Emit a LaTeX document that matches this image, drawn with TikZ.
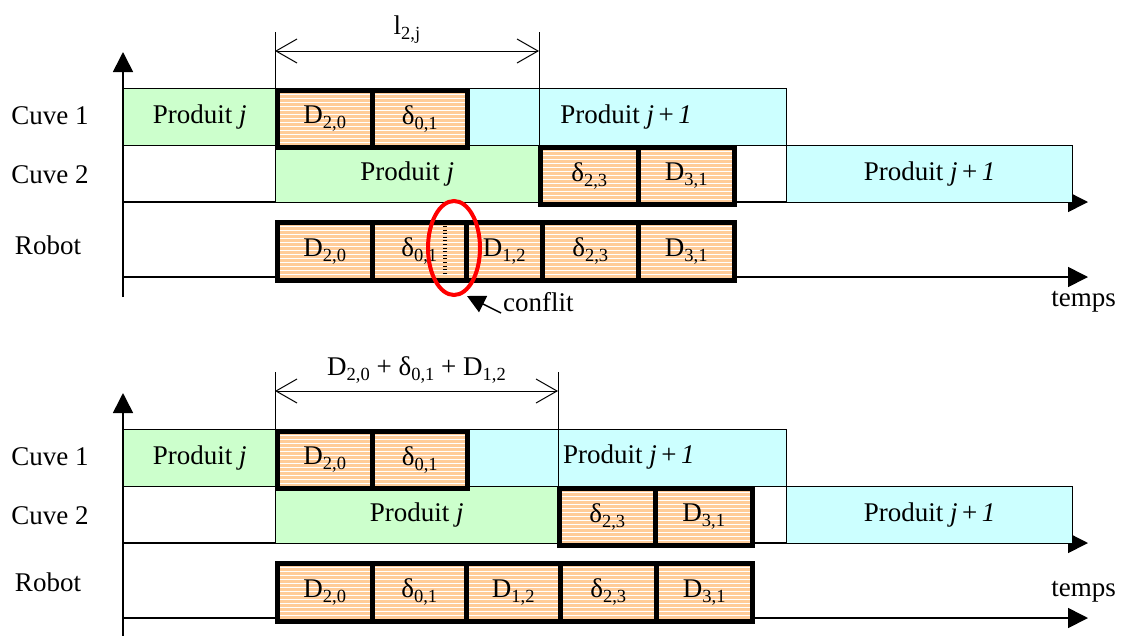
\documentclass[tikz,border=0pt]{standalone}
\usepackage{fontspec}
\setmainfont{Liberation Serif}
\usetikzlibrary{arrows.meta}
\definecolor{peche}{HTML}{FFCC99}
\definecolor{vertclair}{HTML}{CCFFCC}
\definecolor{cyanclair}{HTML}{CCFFFF}
\newcommand\ind[1]{\raisebox{-5pt}{\fontsize{18.5}{18.5}\selectfont #1}}
\tikzset{
    produit/.style={draw, line width=1.3pt, anchor=north west, inner sep=0pt, minimum height=57pt},
    tache/.style={draw, line width=4.5pt, fill=peche, anchor=north west, inner sep=0pt, minimum height=57pt,
        path picture={\foreach \k in {1,...,15}
            \draw[white, line width=0.8pt] ([yshift=-\k*4pt]path picture bounding box.north west) -- ([yshift=-\k*4pt]path picture bounding box.north east);}},
    axe/.style={line width=1.6pt, -{Triangle[length=20pt,width=20pt]}},
    cote/.style={line width=1pt, {Straight Barb[length=21pt,width=24pt]}-{Straight Barb[length=21pt,width=24pt]}},
}

\begin{document}
\begin{tikzpicture}[x=1pt, y=-1pt, font=\fontsize{27}{31}\selectfont]
    \useasboundingbox (0,0) rectangle (1123,635);
    % premier ordonnancement (conflit)
    \draw[axe] (123,297) -- (123,52);
    \draw[axe] (123,202) -- (1088,202);
    \draw[axe] (123,277) -- (1088,277);
    \node (lc1) at (50,116) {Cuve 1};
    \node (lc2) at (50,175) {Cuve 2};
    \node (lrb) at (48,245) {Robot};
    \node[produit, fill=vertclair, minimum width=152pt] (c1pj) at (123,88) {Produit \textit{j}};
    \node[produit, fill=cyanclair, minimum width=321pt] (c1pk) at (465,88) {Produit \textit{j}\,+\,\textit{1}};
    \node[produit, fill=vertclair, minimum width=263pt] (c2pj) at (275,145) {Produit \textit{j}};
    \node[produit, fill=cyanclair, minimum width=286pt] (c2pk) at (786,145) {Produit \textit{j}\,+\,\textit{1}};
    \node[tache, minimum width=95pt] (c1a) at (275,88) {D\ind{2,0}};
    \node[tache, minimum width=95pt] (c1b) at (370,88) {δ\ind{0,1}};
    \node[tache, minimum width=98pt] (c2a) at (538,145) {δ\ind{2,3}};
    \node[tache, minimum width=96pt] (c2b) at (636,145) {D\ind{3,1}};
    \node[tache, minimum width=95pt, minimum height=58pt] (ra) at (275,220) {D\ind{2,0}};
    \node[tache, minimum width=94pt, minimum height=58pt] (rb) at (370,220) {δ\ind{0,1}};
    \node[tache, minimum width=76pt, minimum height=58pt] (rc) at (464,220) {D\ind{1,2}};
    \node[tache, minimum width=96pt, minimum height=58pt] (rd) at (540,220) {δ\ind{2,3}};
    \node[tache, minimum width=96pt, minimum height=58pt] (re) at (636,220) {D\ind{3,1}};
    \draw[line width=4pt, dash pattern=on 1pt off 2.6pt] (445,226) -- (445,273);
    \coordinate (la) at (275,32);
    \coordinate (lb) at (539,32);
    \draw[line width=1pt] (la) -- (c1a.north west);
    \draw[line width=1pt] (lb) -- (539,145);
    \draw[cote] (275,51) -- (539,51) node[midway, above=4pt] (lij) {l\ind{2,j}};
    \draw[red, line width=4pt] (454,248) ellipse [x radius=26pt, y radius=47pt];
    \node[anchor=west, inner sep=0pt] (conf) at (503,302) {conflit};
    \coordinate (cfl) at (467,296);
    \draw[line width=1.5pt, -{Triangle[length=18pt,width=18pt]}] (conf.west) ++(-2,11) -- (cfl);
    \node[anchor=east, inner sep=0pt] (tps1) at (1116,302) {temps};
    % second ordonnancement (sans conflit)
    \draw[axe] (123,640) -- (123,393);
    \draw[axe] (123,543) -- (1088,543);
    \draw[axe] (123,618) -- (1088,618);
    \node (mc1) at (50,457) {Cuve 1};
    \node (mc2) at (50,516) {Cuve 2};
    \node (mrb) at (48,582) {Robot};
    \node[produit, fill=vertclair, minimum width=152pt] (d1pj) at (123,429) {Produit \textit{j}};
    \node[produit, fill=cyanclair, minimum width=321pt] (d1pk) at (465,429) {};
    \node[anchor=west, inner sep=0pt] (d1tx) at (563,457) {Produit \textit{j}\,+\,\textit{1}};
    \node[produit, fill=vertclair, minimum width=282pt] (d2pj) at (275,486) {Produit \textit{j}};
    \node[produit, fill=cyanclair, minimum width=286pt] (d2pk) at (786,486) {Produit \textit{j}\,+\,\textit{1}};
    \node[tache, minimum width=95pt] (d1a) at (275,429) {D\ind{2,0}};
    \node[tache, minimum width=95pt] (d1b) at (370,429) {δ\ind{0,1}};
    \node[tache, minimum width=96pt] (d2a) at (557,486) {δ\ind{2,3}};
    \node[tache, minimum width=97pt] (d2b) at (653,486) {D\ind{3,1}};
    \node[tache, minimum width=95pt, minimum height=58pt] (sa) at (275,561) {D\ind{2,0}};
    \node[tache, minimum width=94pt, minimum height=58pt] (sb) at (370,561) {δ\ind{0,1}};
    \node[tache, minimum width=94pt, minimum height=58pt] (sc) at (464,561) {D\ind{1,2}};
    \node[tache, minimum width=96pt, minimum height=58pt] (sd) at (558,561) {δ\ind{2,3}};
    \node[tache, minimum width=96pt, minimum height=58pt] (se) at (654,561) {D\ind{3,1}};
    \coordinate (ma) at (275,372);
    \coordinate (mb) at (558,372);
    \draw[line width=1pt] (ma) -- (d1a.north west);
    \draw[line width=1pt] (mb) -- (558,486);
    \draw[cote] (275,391) -- (558,391) node[midway, above=4pt] (lsom) {D\ind{2,0} + δ\ind{0,1} + D\ind{1,2}};
    \node[anchor=east, inner sep=0pt] (tps2) at (1116,592) {temps};
\end{tikzpicture}
\end{document}
